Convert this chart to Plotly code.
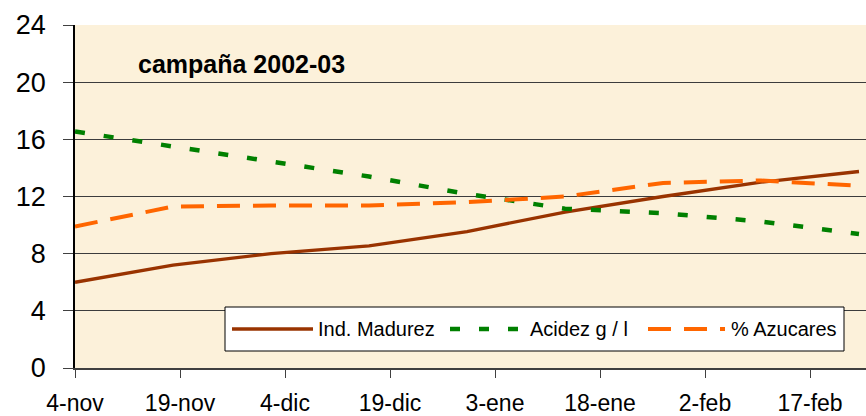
import plotly.graph_objects as go

# ---- data ----
sample_dates = ["2002-11-04", "2002-11-18", "2002-12-02", "2002-12-16", "2002-12-30",
                "2003-01-13", "2003-01-27", "2003-02-10", "2003-02-24"]
ind_madurez = [6.0, 7.2, 8.0, 8.55, 9.55, 10.9, 12.0, 13.0, 13.75]
acidez = [16.55, 15.5, 14.5, 13.4, 12.18, 11.15, 10.83, 10.25, 9.38]
azucares = [9.9, 11.3, 11.37, 11.37, 11.6, 12.0, 12.95, 13.12, 12.75]

tick_dates = ["2002-11-04", "2002-11-19", "2002-12-04", "2002-12-19",
              "2003-01-03", "2003-01-18", "2003-02-02", "2003-02-17"]
tick_labels = ["4-nov", "19-nov", "4-dic", "19-dic", "3-ene", "18-ene", "2-feb", "17-feb"]
y_ticks = [0, 4, 8, 12, 16, 20, 24]

series_names = ["Ind. Madurez", "Acidez g / l", "% Azucares"]
title_text = "campaña 2002-03"

# ---- styles ----
FONT = "Liberation Sans, Arial, sans-serif"
C_BROWN = "#993300"
C_GREEN = "#008000"
C_ORANGE = "#FF6600"
GREEN_DASH = "10px,19px"
ORANGE_DASH = "23px,13px"

fig = go.Figure()
fig.add_trace(go.Scatter(x=sample_dates, y=ind_madurez, mode="lines", name=series_names[0],
                         line=dict(color=C_BROWN, width=3.3), showlegend=False))
fig.add_trace(go.Scatter(x=sample_dates, y=acidez, mode="lines", name=series_names[1],
                         line=dict(color=C_GREEN, width=4.5, dash=GREEN_DASH), showlegend=False))
fig.add_trace(go.Scatter(x=sample_dates, y=azucares, mode="lines", name=series_names[2],
                         line=dict(color=C_ORANGE, width=4, dash=ORANGE_DASH), showlegend=False))

W, H = 866, 416
L, R, T, B = 75, 0, 25, 48
pw, ph = W - L - R, H - T - B

def px(xpix):
    return (xpix - L) / pw

def py(ypix):
    return (H - B - ypix) / ph

shapes = []
annotations = []

# custom legend box
shapes.append(dict(type="rect", xref="paper", yref="paper",
                   x0=px(225), x1=px(844), y0=py(351), y1=py(307),
                   fillcolor="white", line=dict(color="black", width=1), layer="above"))
ly = py(329)
shapes.append(dict(type="line", xref="paper", yref="paper", x0=px(232), x1=px(313), y0=ly, y1=ly,
                   line=dict(color=C_BROWN, width=3.3), layer="above"))
shapes.append(dict(type="line", xref="paper", yref="paper", x0=px(450), x1=px(518), y0=ly, y1=ly,
                   line=dict(color=C_GREEN, width=4.5, dash=GREEN_DASH), layer="above"))
shapes.append(dict(type="line", xref="paper", yref="paper", x0=px(648), x1=px(725), y0=ly, y1=ly,
                   line=dict(color=C_ORANGE, width=4, dash=ORANGE_DASH), layer="above"))
for name, xs in zip(series_names, [316, 528, 729]):
    annotations.append(dict(text=name, xref="paper", yref="paper", x=px(xs), y=ly,
                            xanchor="left", yanchor="middle", showarrow=False,
                            font=dict(family=FONT, size=20, color="black")))

annotations.append(dict(text="<b>" + title_text + "</b>", xref="paper", yref="paper",
                        x=px(136), y=py(64), xanchor="left", yanchor="middle", showarrow=False,
                        font=dict(family=FONT, size=25, color="black")))

fig.update_layout(
    width=W, height=H,
    margin=dict(l=L, r=R, t=T, b=B, pad=0, autoexpand=False),
    paper_bgcolor="white",
    plot_bgcolor="#FCF1DA",
    shapes=shapes,
    annotations=annotations,
    showlegend=False,
)
fig.update_xaxes(
    type="date", automargin=False,
    range=["2002-11-04", "2003-02-25"],
    tickvals=tick_dates, ticktext=tick_labels,
    showgrid=False, zeroline=False,
    showline=True, linecolor="#404040", linewidth=1.5,
    ticks="outside", ticklen=8, tickcolor="#404040", tickwidth=1,
    tickfont=dict(family=FONT, size=23, color="black"),
    ticklabelstandoff=6,
)
fig.update_yaxes(
    automargin=False,
    range=[0, 24], tickvals=y_ticks,
    showgrid=True, gridcolor="#3c3c3c", gridwidth=1,
    zeroline=False,
    showline=True, linecolor="black", linewidth=1.5,
    ticks="outside", ticklen=10, tickcolor="#404040", tickwidth=1,
    tickfont=dict(family=FONT, size=27, color="black"),
    ticklabelstandoff=12,
)

fig.write_html("out.html", config={"displayModeBar": False},
               post_script="document.body.style.margin='0px';document.body.style.overflow='hidden';")
